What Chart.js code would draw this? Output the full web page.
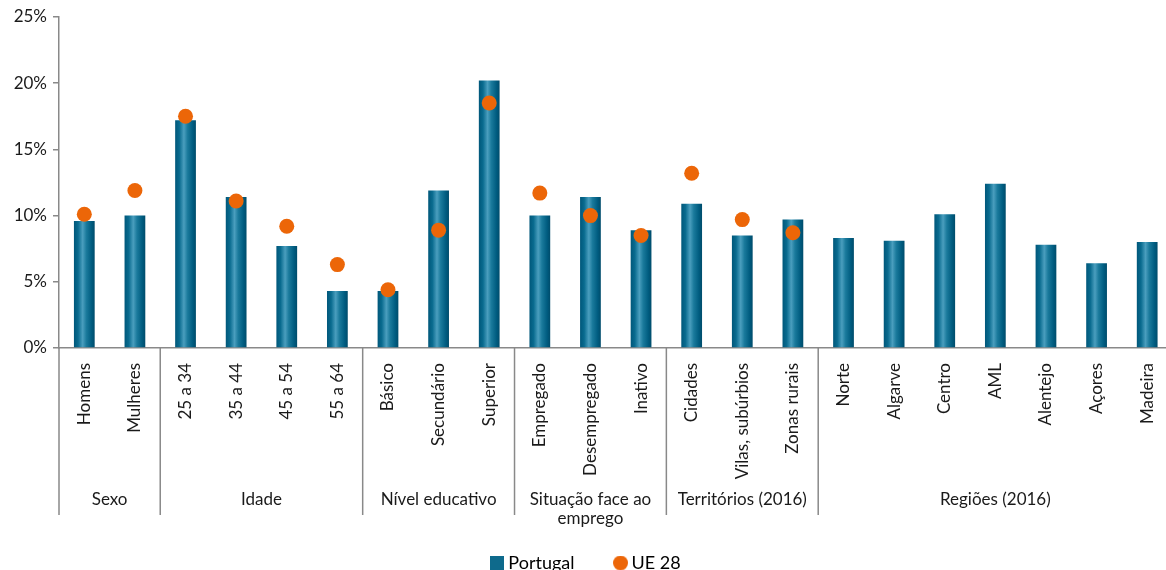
<!DOCTYPE html>
<html>
<head>
<meta charset="utf-8">
<script src="https://cdn.jsdelivr.net/npm/chart.js@4.4.1/dist/chart.umd.min.js"></script>
<style>
  html, body { margin: 0; padding: 0; background: #fff; overflow: hidden; }
  #box { position: relative; width: 1180px; height: 582px; }
</style>
</head>
<body>
<div id="box"><canvas id="grafico"></canvas></div>
<script>
// categorias e valores
const categorias = ['Homens', 'Mulheres', '25 a 34', '35 a 44', '45 a 54', '55 a 64',
  'Básico', 'Secundário', 'Superior', 'Empregado', 'Desempregado', 'Inativo',
  'Cidades', 'Vilas, subúrbios', 'Zonas rurais', 'Norte', 'Algarve', 'Centro',
  'AML', 'Alentejo', 'Açores', 'Madeira'];
const portugal = [9.6, 10.0, 17.2, 11.4, 7.7, 4.3, 4.3, 11.9, 20.2, 10.0, 11.4, 8.9,
  10.9, 8.5, 9.7, 8.3, 8.1, 10.1, 12.4, 7.8, 6.4, 8.0];
const ue28 = [10.1, 11.9, 17.5, 11.1, 9.2, 6.3, 4.4, 8.9, 18.5, 11.7, 10.0, 8.5,
  13.2, 9.7, 8.7, null, null, null, null, null, null, null];
const grupos = ['Sexo', 'Idade', 'Nível educativo', ['Situação face ao', 'emprego'],
  'Territórios (2016)', 'Regiões (2016)'];
const tamanhoGrupos = [2, 4, 3, 3, 3, 7];
const yTicks = [0, 5, 10, 15, 20, 25];

const fonte = 'Lato, "Open Sans", sans-serif';
const corTexto = '#1a1a1a';
const corEixo = '#898989';
const corPT = '#0e6a8c';
const corUE = '#ec6608';
const larguraBarra = 0.41;

// gradiente horizontal em cada barra
function corBarra(context) {
  const chart = context.chart;
  const xs = chart.scales.x;
  if (!xs || context.dataIndex === undefined || !xs.width) return corPT;
  const cx = xs.getPixelForValue(context.dataIndex);
  const half = xs.width / categorias.length * larguraBarra / 2;
  const g = chart.ctx.createLinearGradient(cx - half, 0, cx + half, 0);
  g.addColorStop(0, '#00577a');
  g.addColorStop(0.2, '#096b8f');
  g.addColorStop(0.42, '#4a9ebe');
  g.addColorStop(0.6, '#1a7a9c');
  g.addColorStop(0.85, '#005c80');
  g.addColorStop(1, '#004c6b');
  return g;
}

// marcadores da legenda (quadrado e círculo com tamanhos próprios)
function marcador(forma, cor, lado) {
  const c = document.createElement('canvas');
  c.width = lado; c.height = lado;
  const g = c.getContext('2d');
  g.fillStyle = cor;
  if (forma === 'circle') {
    g.beginPath();
    g.arc(lado / 2, lado / 2, lado / 2, 0, Math.PI * 2);
    g.fill();
  } else {
    g.fillRect(0, 0, lado, lado);
  }
  return c;
}

// linhas de separação e nomes dos grupos por baixo do eixo
const gruposPlugin = {
  id: 'grupos',
  afterDraw(chart) {
    const xs = chart.scales.x;
    const ctx = chart.ctx;
    const y0 = chart.chartArea.bottom;
    const y1 = 515;
    ctx.save();
    ctx.strokeStyle = corEixo;
    ctx.lineWidth = 1.5;
    let inicio = 0;
    const bordas = [xs.left];
    tamanhoGrupos.forEach((n, i) => {
      const fim = inicio + n;
      if (fim < categorias.length) {
        bordas.push((xs.getPixelForValue(fim - 1) + xs.getPixelForValue(fim)) / 2);
      } else {
        bordas.push(xs.right);
      }
      inicio = fim;
    });
    for (let i = 0; i < bordas.length - 1; i++) {
      ctx.beginPath();
      ctx.moveTo(bordas[i], y0);
      ctx.lineTo(bordas[i], y1);
      ctx.stroke();
    }
    ctx.fillStyle = corTexto;
    ctx.font = '17px ' + fonte;
    ctx.textAlign = 'center';
    ctx.textBaseline = 'middle';
    grupos.forEach((g, i) => {
      const cx = (bordas[i] + bordas[i + 1]) / 2;
      const linhas = Array.isArray(g) ? g : [g];
      linhas.forEach((t, k) => ctx.fillText(t, cx, 500 + k * 19));
    });
    ctx.restore();
  }
};

const ctx = document.getElementById('grafico').getContext('2d');
new Chart(ctx, {
  data: {
    labels: categorias,
    datasets: [{
      type: 'line',
      label: 'UE 28',
      data: ue28,
      showLine: false,
      pointRadius: 7.5,
      pointHoverRadius: 7.5,
      pointBackgroundColor: corUE,
      pointBorderWidth: 0,
      borderColor: corUE,
      order: 0
    }, {
      type: 'bar',
      label: 'Portugal',
      data: portugal,
      backgroundColor: corBarra,
      borderWidth: 0,
      barPercentage: larguraBarra,
      categoryPercentage: 1,
      order: 1
    }]
  },
  options: {
    responsive: true,
    maintainAspectRatio: false,
    animation: false,
    layout: { padding: { top: 17, right: 4, left: 0, bottom: 0 } },
    scales: {
      x: {
        grid: { display: false },
        border: { display: true, color: corEixo, width: 1.5 },
        ticks: {
          color: corTexto,
          font: { family: fonte, size: 17 },
          minRotation: 90,
          maxRotation: 90,
          autoSkip: false,
          padding: 7
        },
        afterFit(scale) { scale.height = 162; }
      },
      y: {
        min: 0,
        max: 25,
        afterBuildTicks(scale) { scale.ticks = yTicks.map(v => ({ value: v })); },
        grid: { drawOnChartArea: false, drawTicks: true, tickLength: 6, color: corEixo, lineWidth: 1.5 },
        border: { display: true, color: corEixo, width: 1.5 },
        ticks: {
          color: corTexto,
          font: { family: fonte, size: 17 },
          padding: 6,
          callback: v => v + '%'
        },
        afterFit(scale) { scale.width = 59; }
      }
    },
    plugins: {
      tooltip: { enabled: false },
      legend: {
        position: 'bottom',
        labels: {
          color: corTexto,
          font: { family: fonte, size: 18 },
          usePointStyle: true,
          pointStyleWidth: 4,
          boxHeight: 14,
          padding: 44,
          generateLabels() {
            return [
              { text: 'Portugal', fillStyle: corPT, strokeStyle: corPT, lineWidth: 0, pointStyle: marcador('rect', corPT, 14), datasetIndex: 1 },
              { text: 'UE 28', fillStyle: corUE, strokeStyle: corUE, lineWidth: 0, pointStyle: marcador('circle', corUE, 15), datasetIndex: 0 }
            ];
          }
        }
      }
    }
  },
  plugins: [gruposPlugin]
});
</script>
</body>
</html>
